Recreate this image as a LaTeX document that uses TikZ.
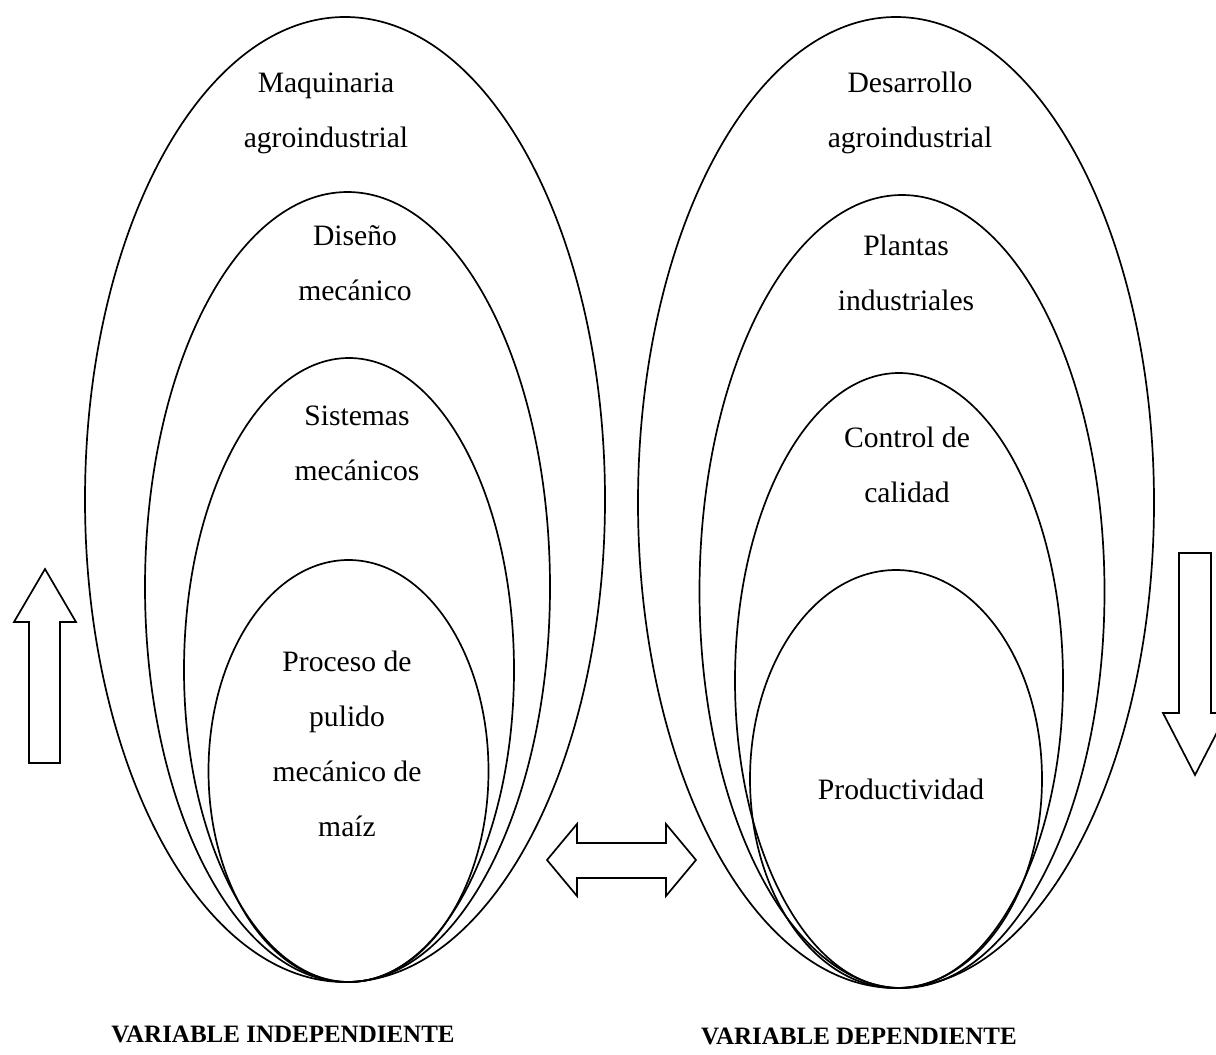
\documentclass[tikz,border=0pt]{standalone}
\usepackage{fontspec}
\setmainfont{Liberation Serif}
\begin{document}
\begin{tikzpicture}[x=0.5pt,y=-0.5pt,
  ring/.style={draw=black,line width=0.85pt},
  blockarrow/.style={draw=black,line width=0.85pt,fill=white,line join=miter},
  lbl/.style={anchor=base,align=center,inner sep=0pt,font=\fontsize{14.8}{27.5}\selectfont},
  title/.style={anchor=base,inner sep=0pt,font=\fontsize{12.5}{15}\selectfont\bfseries}]
\useasboundingbox (0,0) rectangle (1216,1055);
% left group
\draw[ring] (345,499.5) ellipse [x radius=260, y radius=482.5];
\draw[ring] (347.5,587) ellipse [x radius=202.5, y radius=395];
\draw[ring] (349,670) ellipse [x radius=165, y radius=312];
\draw[ring] (348.5,771) ellipse [x radius=140, y radius=211];
% right group
\draw[ring] (896,502.5) ellipse [x radius=258, y radius=485.5];
\draw[ring] (902,591.5) ellipse [x radius=202.5, y radius=396.5];
\draw[ring] (899,680.5) ellipse [x radius=164, y radius=307.5];
\draw[ring] (896,779) ellipse [x radius=146, y radius=209];
% labels (anchor = baseline of last line)
\node[lbl] (maq) at (326,147) {Maquinaria\\agroindustrial};
\node[lbl] (dis) at (355,300) {Diseño\\mecánico};
\node[lbl] (sis) at (357,480) {Sistemas\\mecánicos};
\node[lbl] (pro) at (347,836) {Proceso de\\pulido\\mecánico de\\maíz};
\node[lbl] (des) at (910,147) {Desarrollo\\agroindustrial};
\node[lbl] (pla) at (906,310) {Plantas\\industriales};
\node[lbl] (con) at (907,502) {Control de\\calidad};
\node[lbl] (prd) at (901,799) {Productividad};
\node[title] (vi) at (283,1042) {VARIABLE INDEPENDIENTE};
\node[title] (vd) at (859,1044) {VARIABLE DEPENDIENTE};
% block arrows
\draw[blockarrow] (29,763) -- (29,622) -- (14,622) -- (45,569) -- (76,622) -- (60,622) -- (60,763) -- cycle;
\draw[blockarrow] (1179,553) -- (1211,553) -- (1211,713) -- (1227,713) -- (1195,775) -- (1163,713) -- (1179,713) -- cycle;
\draw[blockarrow] (547,860) -- (577,824) -- (577,843) -- (666,843) -- (666,824) -- (696,860) -- (666,896) -- (666,878) -- (577,878) -- (577,896) -- cycle;
\end{tikzpicture}
\end{document}
